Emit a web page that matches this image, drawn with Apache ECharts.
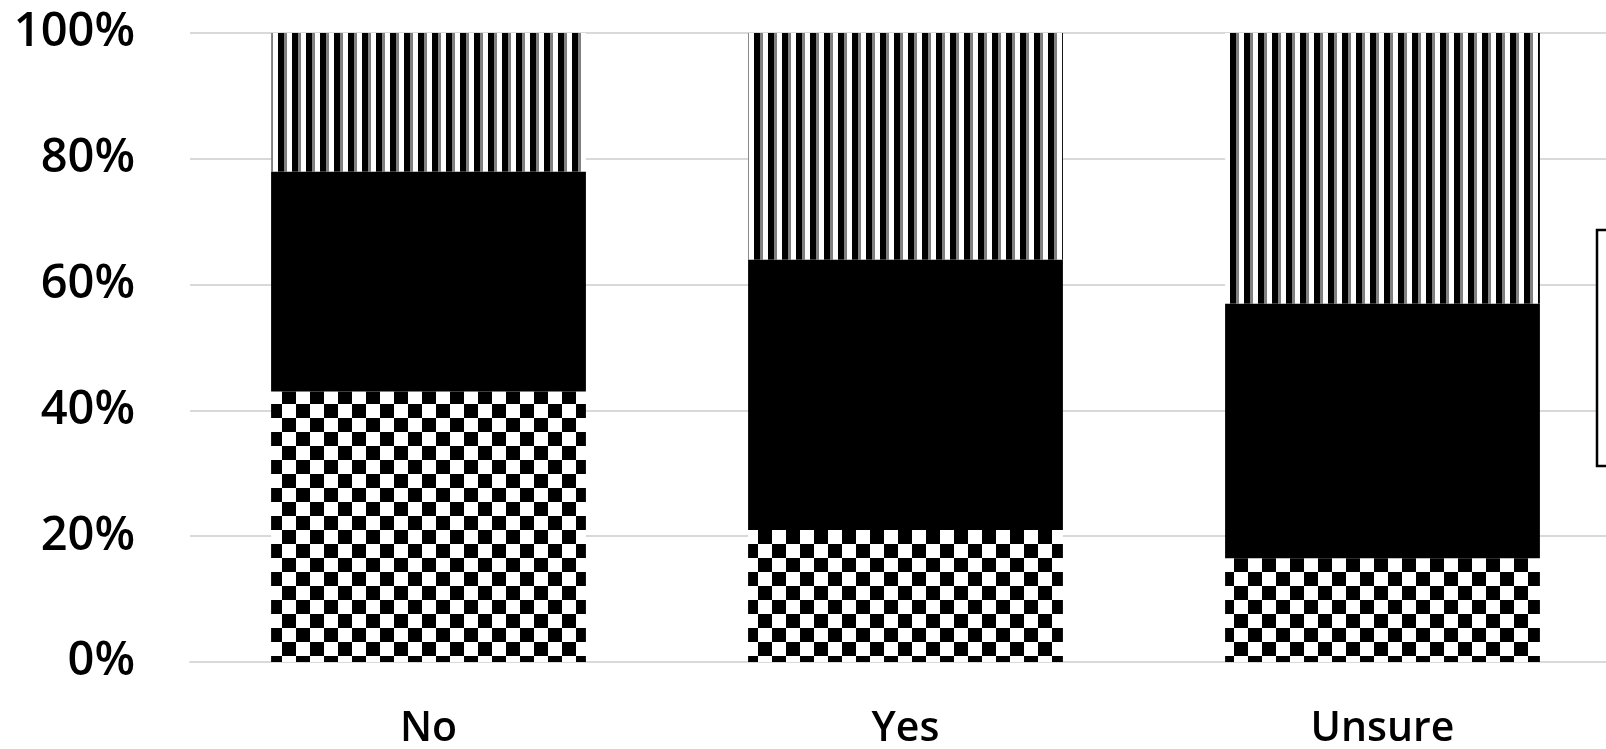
<!DOCTYPE html>
<html>
<head>
<meta charset="utf-8">
<script src="https://cdn.jsdelivr.net/npm/echarts@6/dist/echarts.min.js"></script>
<style>
  html, body { margin: 0; padding: 0; background: #fff; }
  #chart { width: 1606px; height: 749px; }
</style>
</head>
<body>
<div id="chart"></div>
<script>
// Answer groups along the x axis
const categories = ['No', 'Yes', 'Unsure'];
// Share (%) of each group in every stacked segment, bottom to top
const seriesNames = ['Series 1', 'Series 2', 'Series 3'];
const bottomValues = [43, 21, 16.5];
const middleValues = [35, 43, 40.5];
const topValues = [22, 36, 43];
// Value axis tick labels
const tickLabels = ['0%', '20%', '40%', '60%', '80%', '100%'];

// Checkerboard fill, 14 px squares
function makeChecker() {
  const c = document.createElement('canvas');
  c.width = 28; c.height = 28;
  const g = c.getContext('2d');
  g.fillStyle = '#fff';
  g.fillRect(0, 0, 28, 28);
  g.fillStyle = '#000';
  for (let v = 0; v < 28; v++) {
    for (let u = 0; u < 28; u++) {
      const a = ((u - 2 + 28) % 28) < 14;
      const b = ((v - 12 + 28) % 28) < 14;
      if (a !== b) g.fillRect(u, v, 1, 1);
    }
  }
  return c;
}

// Dark vertical stripes, 14 px period
function makeStripes() {
  const c = document.createElement('canvas');
  c.width = 14; c.height = 4;
  const g = c.getContext('2d');
  g.fillStyle = '#fff';
  g.fillRect(0, 0, 14, 4);
  g.fillStyle = '#000';
  g.fillRect(0, 0, 4, 4);
  g.fillRect(12, 0, 2, 4);
  g.fillStyle = '#808080';
  g.fillRect(4, 0, 3, 4);
  return c;
}

const checker = { image: makeChecker(), repeat: 'repeat' };
const stripes = { image: makeStripes(), repeat: 'repeat' };

const chart = echarts.init(document.getElementById('chart'), null, { renderer: 'canvas' });

const fontFamily = '"Open Sans", "Noto Sans", sans-serif';

chart.setOption({
  animation: false,
  backgroundColor: '#fff',
  // the plot runs past the right edge, under the legend box
  grid: { left: 190, top: 33, width: 1431, height: 629, containLabel: false, outerBoundsMode: 'none' },
  legend: {
    orient: 'vertical',
    left: 1597,
    top: 230,
    padding: [33, 20, 33, 20],
    itemGap: 40,
    itemWidth: 30,
    itemHeight: 30,
    backgroundColor: '#fff',
    borderColor: '#000',
    borderWidth: 2.5,
    textStyle: { fontFamily: fontFamily, fontSize: 26, color: '#000' },
    data: seriesNames.slice().reverse()
  },
  xAxis: {
    type: 'category',
    data: categories,
    axisLine: { show: true, lineStyle: { color: '#d9d9d9', width: 2 } },
    axisTick: { show: false },
    axisLabel: {
      margin: 47,
      fontFamily: fontFamily,
      fontWeight: 600,
      fontSize: 41,
      color: '#000'
    }
  },
  yAxis: {
    type: 'value',
    min: 0,
    max: 100,
    interval: 20,
    axisLine: { show: false },
    axisTick: { show: false },
    splitLine: { lineStyle: { color: '#d9d9d9', width: 2 } },
    axisLabel: {
      margin: 55,
      fontFamily: fontFamily,
      fontWeight: 600,
      fontSize: 47,
      color: '#000',
      formatter: function (v) { return tickLabels[Math.round(v / 20)]; }
    }
  },
  series: [
    { name: seriesNames[0], type: 'bar', stack: 'total', barWidth: '66%', data: bottomValues,
      itemStyle: { color: checker } },
    { name: seriesNames[1], type: 'bar', stack: 'total', barWidth: '66%', data: middleValues,
      itemStyle: { color: '#000' } },
    { name: seriesNames[2], type: 'bar', stack: 'total', barWidth: '66%', data: topValues,
      itemStyle: { color: stripes } }
  ]
});
</script>
</body>
</html>
